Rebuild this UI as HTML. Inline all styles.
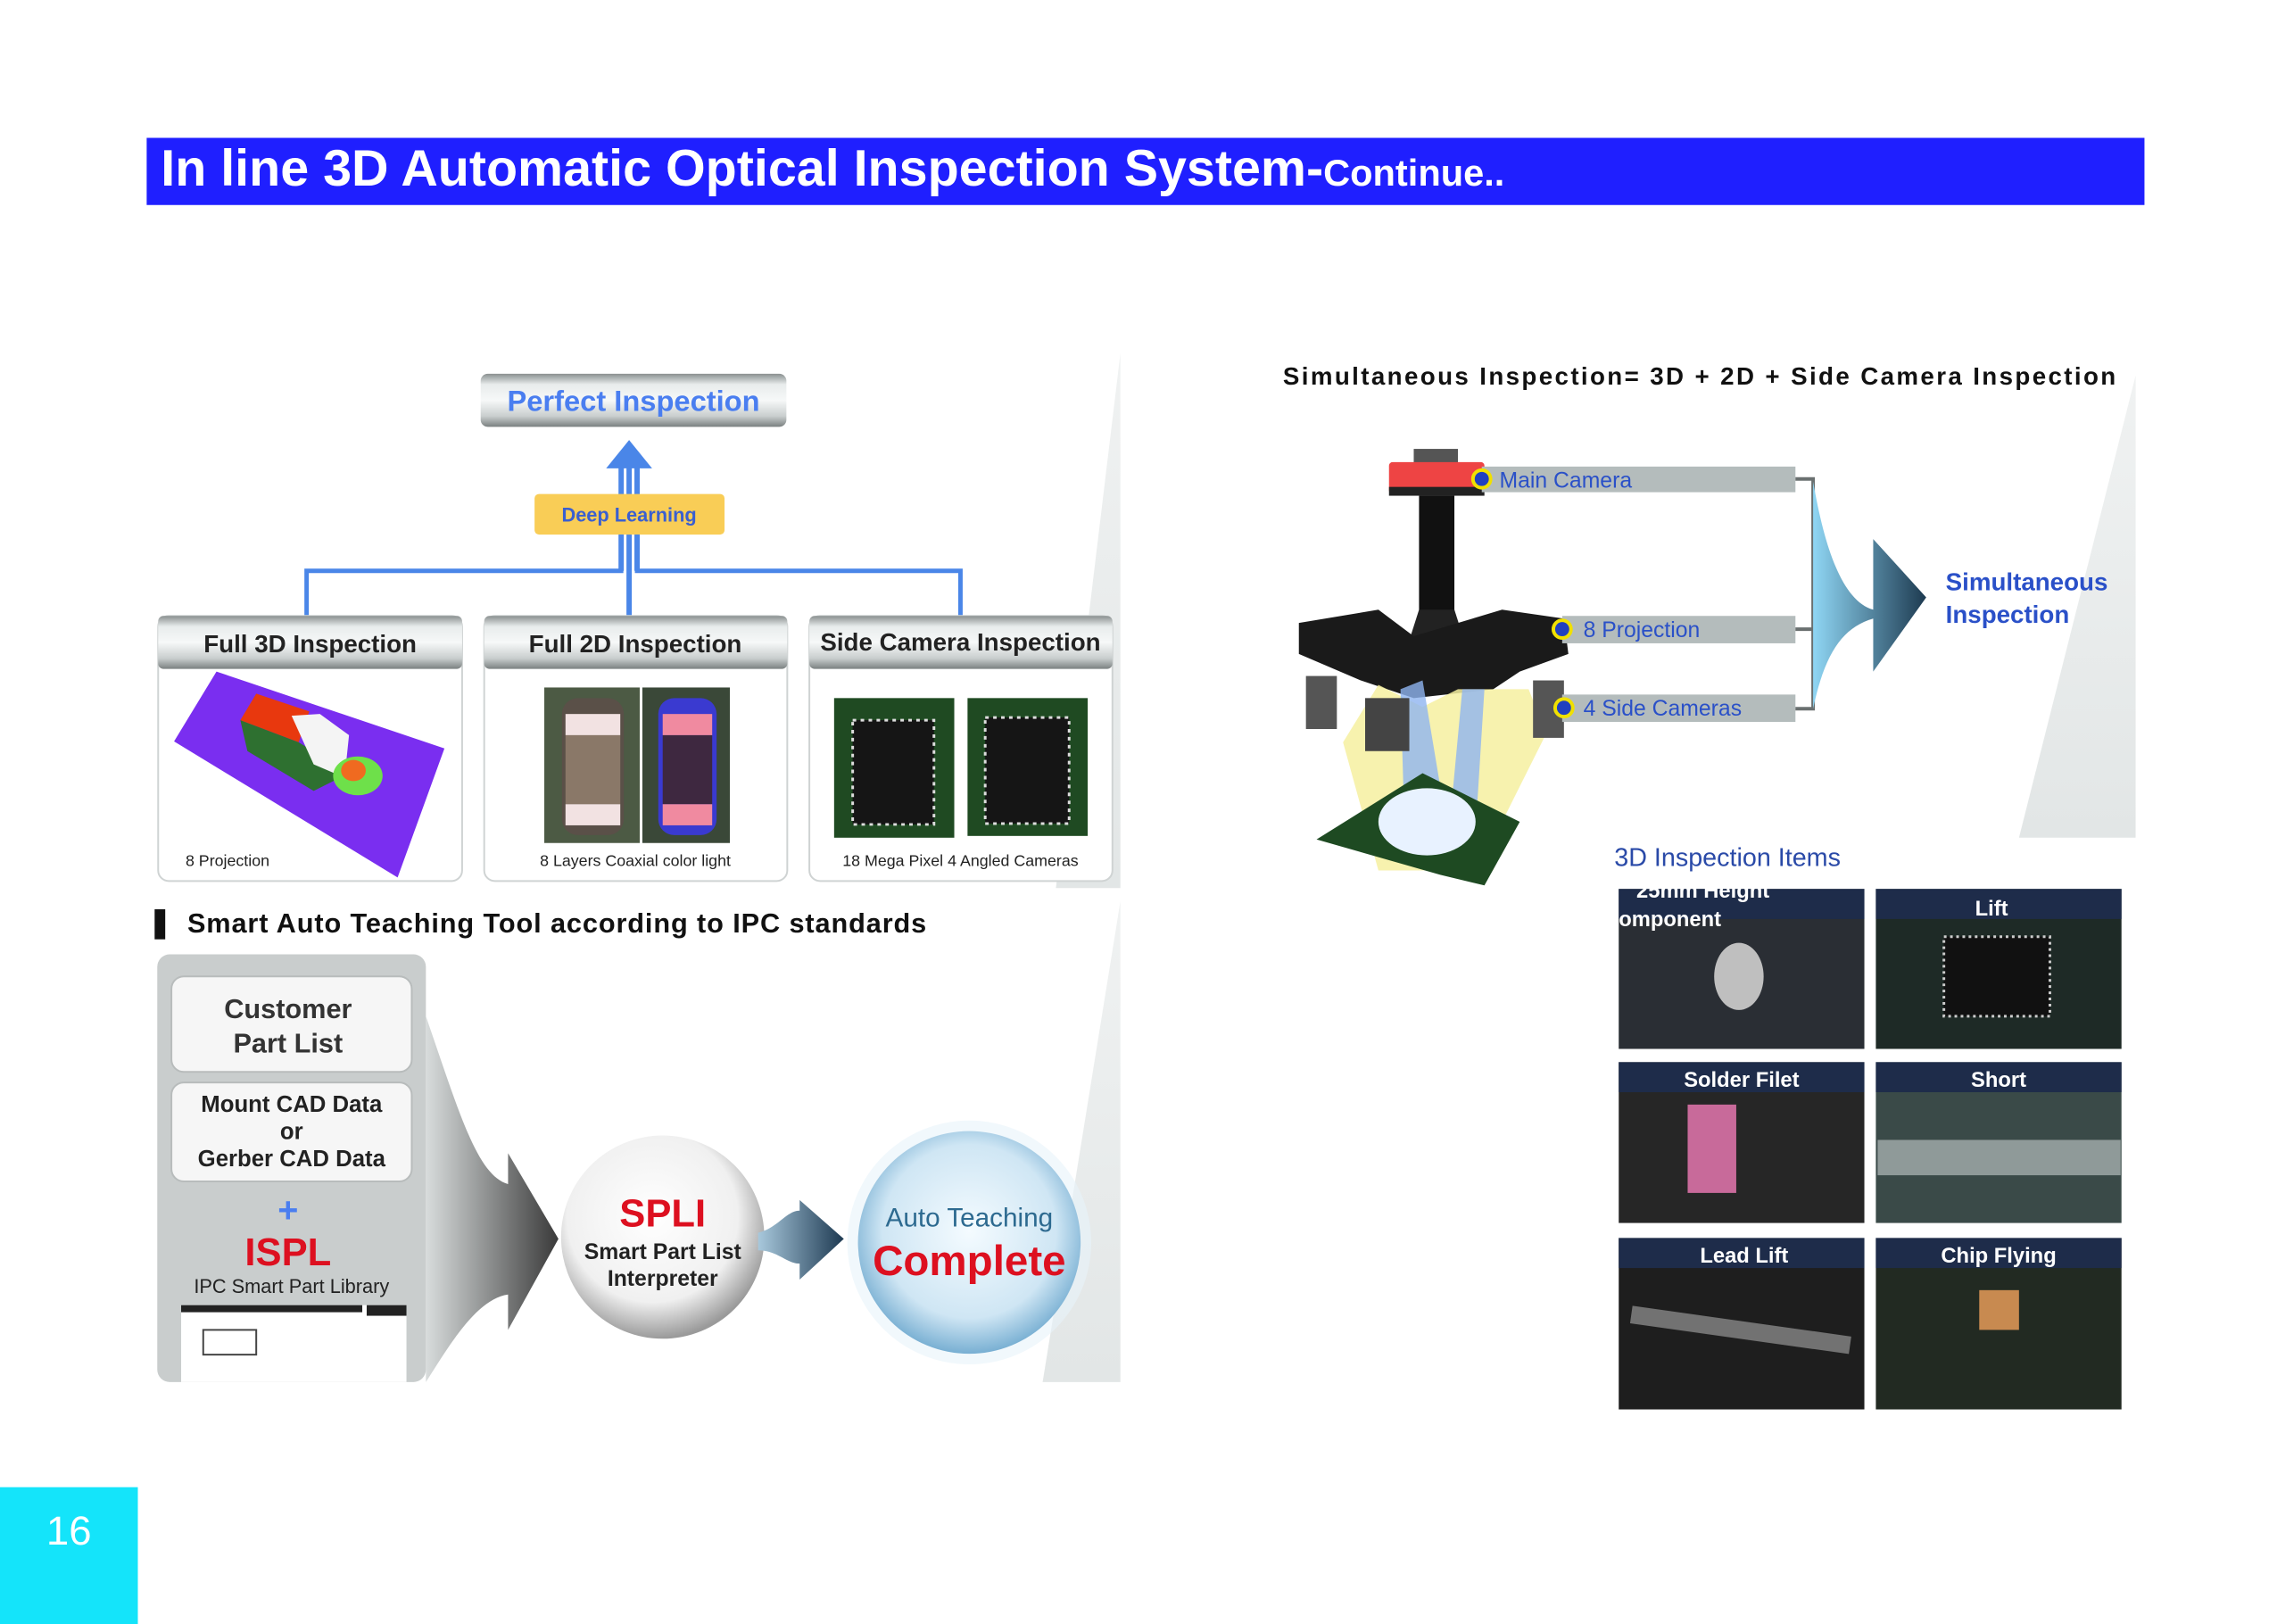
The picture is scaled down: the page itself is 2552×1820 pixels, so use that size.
<!DOCTYPE html>
<html><head><meta charset="utf-8"><style>
html,body{margin:0;padding:0;background:#fff}
svg{display:block}
text{font-family:"Liberation Sans",Arial,sans-serif}
</style></head><body>
<svg width="2552" height="1820" viewBox="0 0 2552 1820" xmlns="http://www.w3.org/2000/svg">
<defs>
<linearGradient id="hdr" x1="0" y1="0" x2="0" y2="1"><stop offset="0" stop-color="#8a9090"/><stop offset="0.2" stop-color="#e8ecec"/><stop offset="0.5" stop-color="#f6f8f8"/><stop offset="0.8" stop-color="#c9cece"/><stop offset="1" stop-color="#7a8080"/></linearGradient>
<linearGradient id="grayArrow" x1="0" y1="0" x2="1" y2="0"><stop offset="0" stop-color="#d8dcdc"/><stop offset="1" stop-color="#3a3a3a"/></linearGradient>
<linearGradient id="blueArrow" x1="0" y1="0" x2="1" y2="0"><stop offset="0" stop-color="#8fd6f4"/><stop offset="1" stop-color="#1d3a50"/></linearGradient>
<linearGradient id="smallArrow" x1="0" y1="0" x2="1" y2="0"><stop offset="0" stop-color="#a8c8dc"/><stop offset="1" stop-color="#1e3a52"/></linearGradient>
<radialGradient id="spli" cx="0.45" cy="0.4" r="0.6"><stop offset="0" stop-color="#ffffff"/><stop offset="0.7" stop-color="#f0f0f0"/><stop offset="1" stop-color="#9a9a9a"/></radialGradient>
<radialGradient id="auto" cx="0.5" cy="0.45" r="0.6"><stop offset="0" stop-color="#f4fbff"/><stop offset="0.65" stop-color="#cfe6f4"/><stop offset="1" stop-color="#5d9ec8"/></radialGradient>
<linearGradient id="wedge" x1="0" y1="0" x2="0" y2="1"><stop offset="0" stop-color="#f0f2f2"/><stop offset="1" stop-color="#e2e6e6"/></linearGradient>
</defs>
<g transform="scale(0.9903)">
<rect x="166" y="156" width="2261" height="76" fill="#1f1fff"/>
<text x="182" y="210" font-size="58" font-weight="bold" fill="#fff">In line 3D Automatic Optical Inspection System-<tspan font-size="42">Continue..</tspan></text>

<rect x="0" y="1683" width="156" height="160" fill="#14e4fa"/>
<text x="78" y="1748" font-size="46" fill="#fff" text-anchor="middle">16</text>

<polygon points="1268,400 1268,1005 1195,1005" fill="url(#wedge)"/>
<polygon points="1268,1020 1268,1564 1180,1564" fill="url(#wedge)"/>

<rect x="544" y="423" width="346" height="60" rx="8" fill="url(#hdr)"/>
<text x="717" y="465" font-size="33" font-weight="bold" fill="#4a7ef0" text-anchor="middle">Perfect Inspection</text>
<polygon points="712,498 686,530 738,530" fill="#4a86e8"/>
<rect x="700" y="528" width="6" height="118" fill="#4a86e8"/>
<rect x="709" y="528" width="6" height="170" fill="#4a86e8"/>
<rect x="718" y="528" width="6" height="118" fill="#4a86e8"/>
<rect x="605" y="559" width="215" height="46" rx="5" fill="#f9cd56"/>
<text x="712" y="590" font-size="22" font-weight="bold" fill="#3a5fd0" text-anchor="middle">Deep Learning</text>
<polyline points="703,605 703,646 347,646 347,699" fill="none" stroke="#4a86e8" stroke-width="5"/>
<polyline points="721,605 721,646 1087,646 1087,699" fill="none" stroke="#4a86e8" stroke-width="5"/>

<g>
<rect x="179" y="697" width="344" height="300" rx="12" fill="#fff" stroke="#cfd3d3" stroke-width="2"/>
<rect x="179" y="697" width="344" height="60" rx="6" fill="url(#hdr)"/>
<text x="351" y="738" font-size="28" font-weight="bold" fill="#222" text-anchor="middle">Full 3D Inspection</text>
<polygon points="197,839 245,760 503,847 450,993" fill="#7a2ef0"/>
<polygon points="272,815 290,785 350,805 338,840" fill="#e8380e"/>
<polygon points="272,815 338,840 395,875 355,895 280,850" fill="#2e7030"/>
<polygon points="330,810 362,808 395,832 390,880 355,865" fill="#f4f4f4"/>
<ellipse cx="405" cy="878" rx="28" ry="22" fill="#6ee04a"/>
<ellipse cx="400" cy="872" rx="14" ry="12" fill="#f06a20"/>
<text x="210" y="980" font-size="18" fill="#222">8 Projection</text>

<rect x="548" y="697" width="343" height="300" rx="12" fill="#fff" stroke="#cfd3d3" stroke-width="2"/>
<rect x="548" y="697" width="343" height="60" rx="6" fill="url(#hdr)"/>
<text x="719" y="738" font-size="28" font-weight="bold" fill="#222" text-anchor="middle">Full 2D Inspection</text>
<rect x="616" y="778" width="108" height="176" fill="#4c5a44"/>
<rect x="727" y="778" width="99" height="176" fill="#3a4838"/>
<rect x="636" y="790" width="70" height="155" rx="18" fill="#5a5048"/>
<rect x="640" y="808" width="62" height="24" fill="#f2e2e2"/>
<rect x="640" y="910" width="62" height="24" fill="#f2e2e2"/>
<rect x="640" y="832" width="62" height="78" fill="#8a7868"/>
<rect x="745" y="790" width="66" height="155" rx="18" fill="#3a3ad0"/>
<rect x="750" y="808" width="56" height="24" fill="#f08aa0"/>
<rect x="750" y="910" width="56" height="24" fill="#f08aa0"/>
<rect x="750" y="832" width="56" height="78" fill="#3e2840"/>
<text x="719" y="980" font-size="18" fill="#222" text-anchor="middle">8 Layers Coaxial color light</text>

<rect x="916" y="697" width="343" height="300" rx="12" fill="#fff" stroke="#cfd3d3" stroke-width="2"/>
<rect x="916" y="697" width="343" height="60" rx="6" fill="url(#hdr)"/>
<text x="1087" y="736" font-size="28" font-weight="bold" fill="#222" text-anchor="middle">Side Camera Inspection</text>
<rect x="944" y="790" width="136" height="158" fill="#1f4a22"/>
<rect x="1095" y="790" width="136" height="156" fill="#1f4a22"/>
<rect x="965" y="815" width="92" height="118" fill="#151515" stroke="#ddd" stroke-width="3" stroke-dasharray="4 5"/>
<rect x="1115" y="812" width="95" height="120" fill="#151515" stroke="#ddd" stroke-width="3" stroke-dasharray="4 5"/>
<text x="1087" y="980" font-size="18" fill="#222" text-anchor="middle">18 Mega Pixel 4 Angled Cameras</text>
</g>

<rect x="175" y="1029" width="12" height="34" fill="#111"/>
<text x="212" y="1055" font-size="31" font-weight="bold" fill="#111" letter-spacing="0.9">Smart Auto Teaching Tool according to IPC standards</text>
<rect x="178" y="1080" width="304" height="484" rx="14" fill="#c9cdcd"/>
<rect x="194" y="1105" width="272" height="108" rx="14" fill="#f6f6f6" stroke="#b8bcbc" stroke-width="2"/>
<text x="326" y="1152" font-size="31" font-weight="bold" fill="#333" text-anchor="middle">Customer</text>
<text x="326" y="1191" font-size="31" font-weight="bold" fill="#333" text-anchor="middle">Part List</text>
<rect x="194" y="1225" width="272" height="112" rx="14" fill="#f6f6f6" stroke="#b8bcbc" stroke-width="2"/>
<text x="330" y="1258" font-size="26" font-weight="bold" fill="#222" text-anchor="middle">Mount CAD Data</text>
<text x="330" y="1289" font-size="26" font-weight="bold" fill="#222" text-anchor="middle">or</text>
<text x="330" y="1320" font-size="26" font-weight="bold" fill="#222" text-anchor="middle">Gerber CAD Data</text>
<text x="326" y="1383" font-size="40" font-weight="bold" fill="#4a7ef0" text-anchor="middle">+</text>
<text x="326" y="1432" font-size="44" font-weight="bold" fill="#dd1020" text-anchor="middle">ISPL</text>
<text x="330" y="1463" font-size="22" fill="#222" text-anchor="middle">IPC Smart Part Library</text>
<rect x="205" y="1477" width="255" height="87" fill="#fff"/>
<rect x="205" y="1477" width="205" height="8" fill="#222"/>
<rect x="415" y="1477" width="45" height="12" fill="#222"/>
<rect x="230" y="1505" width="60" height="28" fill="none" stroke="#444" stroke-width="2"/>

<path d="M482,1150 C520,1260 540,1330 575,1340 L575,1305 L632,1402 L575,1505 L575,1465 C540,1470 510,1520 482,1564 Z" fill="url(#grayArrow)"/>
<circle cx="750" cy="1400" r="115" fill="url(#spli)"/>
<text x="750" y="1388" font-size="44" font-weight="bold" fill="#dd1020" text-anchor="middle">SPLI</text>
<text x="750" y="1425" font-size="25" font-weight="bold" fill="#222" text-anchor="middle">Smart Part List</text>
<text x="750" y="1455" font-size="25" font-weight="bold" fill="#222" text-anchor="middle">Interpreter</text>
<path d="M858,1395 C880,1390 890,1370 905,1370 L905,1358 L955,1402 L905,1448 L905,1430 C890,1430 880,1415 858,1415 Z" fill="url(#smallArrow)"/>
<circle cx="1097" cy="1406" r="138" fill="#e8f4fa" opacity="0.6"/>
<circle cx="1097" cy="1406" r="126" fill="url(#auto)"/>
<text x="1097" y="1388" font-size="30" fill="#2d6a90" text-anchor="middle">Auto Teaching</text>
<text x="1097" y="1443" font-size="48" font-weight="bold" fill="#dd1020" text-anchor="middle">Complete</text>

<text x="1452" y="435" font-size="28" font-weight="bold" fill="#111" letter-spacing="2.4">Simultaneous Inspection= 3D + 2D + Side Camera Inspection</text>
<polygon points="2417,425 2417,948 2285,948" fill="url(#wedge)"/>

<rect x="1600" y="508" width="50" height="18" fill="#555"/>
<rect x="1572" y="523" width="108" height="36" rx="4" fill="#ee4444"/>
<rect x="1572" y="551" width="108" height="10" fill="#222"/>
<rect x="1606" y="561" width="40" height="130" fill="#111"/>
<polygon points="1590,740 1606,690 1646,690 1662,740" fill="#222"/>
<polygon points="1470,705 1560,690 1600,720 1700,690 1770,700 1775,740 1720,760 1690,780 1600,790 1540,770 1470,740" fill="#1a1a1a"/>
<polygon points="1520,840 1560,775 1610,800 1650,780 1730,780 1750,830 1700,930 1690,985 1560,985" fill="#f6f0a0" opacity="0.85"/>
<polygon points="1585,780 1610,770 1640,950 1590,950" fill="#8fb4f0" opacity="0.8"/>
<polygon points="1655,780 1680,780 1670,940 1640,940" fill="#8fb4f0" opacity="0.8"/>
<polygon points="1490,950 1610,875 1720,930 1680,1002 1630,990" fill="#1e4a22"/>
<ellipse cx="1615" cy="930" rx="55" ry="38" fill="#e8f2ff"/>
<rect x="1478" y="765" width="35" height="60" fill="#555"/>
<rect x="1545" y="790" width="50" height="60" fill="#444"/>
<rect x="1735" y="770" width="35" height="65" fill="#555"/>
<rect x="1677" y="528" width="355" height="29" fill="#b4bcbc"/>
<circle cx="1677" cy="542" r="10" fill="#2040c0" stroke="#f0e000" stroke-width="4"/>
<text x="1697" y="552" font-size="25" fill="#2a50c8">Main Camera</text>
<rect x="1768" y="697" width="264" height="31" fill="#b4bcbc"/>
<circle cx="1768" cy="712" r="10" fill="#2040c0" stroke="#f0e000" stroke-width="4"/>
<text x="1792" y="721" font-size="25" fill="#2a50c8">8 Projection</text>
<rect x="1768" y="786" width="264" height="31" fill="#b4bcbc"/>
<circle cx="1770" cy="801" r="10" fill="#2040c0" stroke="#f0e000" stroke-width="4"/>
<text x="1792" y="810" font-size="25" fill="#2a50c8">4 Side Cameras</text>
<polyline points="2032,542 2052,542 2052,802 2032,802" fill="none" stroke="#6a7070" stroke-width="4"/>
<line x1="2032" y1="712" x2="2052" y2="712" stroke="#6a7070" stroke-width="4"/>
<path d="M2052,545 C2065,620 2085,680 2120,690 L2120,610 L2180,676 L2120,760 L2120,700 C2085,710 2065,740 2052,802 Z" fill="url(#blueArrow)"/>
<text x="2202" y="668" font-size="28" font-weight="bold" fill="#2a50c8">Simultaneous</text>
<text x="2202" y="705" font-size="28" font-weight="bold" fill="#2a50c8">Inspection</text>

<text x="1827" y="980" font-size="29" fill="#2a4aa8">3D Inspection Items</text>
<g font-size="24" font-weight="bold" fill="#fff">
<rect x="1832" y="1006" width="278" height="181" fill="#2a2e34"/><rect x="1832" y="1006" width="278" height="34" fill="#1e2c4a"/>
<text x="1832" y="1048" font-size="24" fill="#fff">omponent</text><text x="1852" y="1016" font-size="24" fill="#fff">25mm Height</text>
<ellipse cx="1968" cy="1105" rx="28" ry="38" fill="#bfbfbf"/>
<rect x="2123" y="1006" width="278" height="181" fill="#1e2a26"/><rect x="2123" y="1006" width="278" height="34" fill="#1e2c4a"/>
<text x="2254" y="1036" text-anchor="middle">Lift</text>
<rect x="2200" y="1060" width="120" height="90" fill="#111" stroke="#ccc" stroke-width="3" stroke-dasharray="3 4"/>
<rect x="1832" y="1202" width="278" height="182" fill="#262626"/><rect x="1832" y="1202" width="278" height="34" fill="#1e2c4a"/>
<text x="1971" y="1230" text-anchor="middle">Solder Filet</text>
<rect x="1910" y="1250" width="55" height="100" fill="#c86a9a"/>
<rect x="2123" y="1202" width="278" height="182" fill="#3a4a48"/><rect x="2123" y="1202" width="278" height="34" fill="#1e2c4a"/>
<text x="2262" y="1230" text-anchor="middle">Short</text>
<rect x="2125" y="1290" width="275" height="40" fill="#c8d0d0" opacity="0.6"/>
<rect x="1832" y="1401" width="278" height="194" fill="#1e1e1e"/><rect x="1832" y="1401" width="278" height="34" fill="#1e2c4a"/>
<text x="1974" y="1429" text-anchor="middle">Lead Lift</text>
<rect x="1845" y="1495" width="250" height="20" fill="#aaa" opacity="0.6" transform="rotate(8 1970 1505)"/>
<rect x="2123" y="1401" width="278" height="194" fill="#222a22"/><rect x="2123" y="1401" width="278" height="34" fill="#1e2c4a"/>
<text x="2262" y="1429" text-anchor="middle">Chip Flying</text>
<rect x="2240" y="1460" width="45" height="45" fill="#c88a50"/>
</g>
</g>
</svg>
</body></html>
